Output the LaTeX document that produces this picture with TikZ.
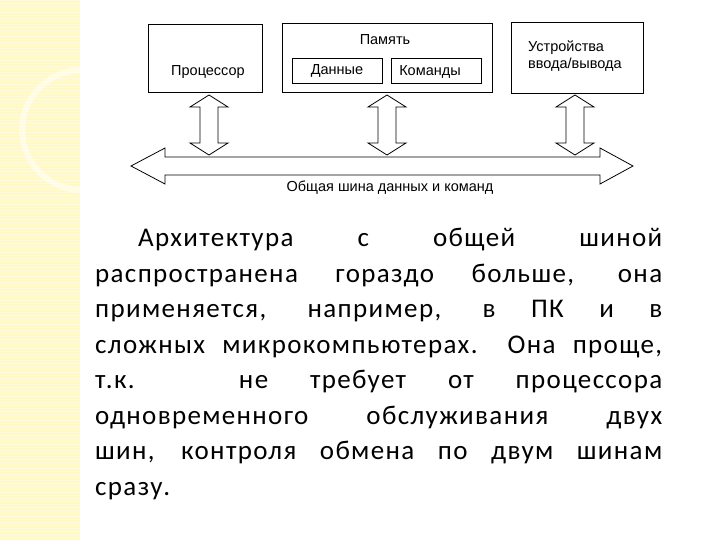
\documentclass[tikz,border=0pt]{standalone}
\usepackage{fontspec}
\setmainfont{Carlito}
\newfontfamily\parf[LetterSpace=5,WordSpace=1.6]{Carlito}
\newfontfamily\arialf{Liberation Sans}
\begin{document}
\begin{tikzpicture}[x=1pt,y=-1pt,
  box/.style={draw,line width=0.8pt,inner sep=0pt},
  lab/.style={font=\arialf\fontsize{14.5}{17}\selectfont,inner sep=0pt},
  dbl/.style={draw,line width=0.8pt,fill=white}]
\useasboundingbox (0,0) rectangle (720,540);
\fill[white] (0,0) rectangle (720,540);
% decorative strip
\fill[orange!20!yellow!22!white] (0,0) rectangle (80,540);
\foreach \yy in {0,3,...,540} \draw[white,opacity=0.35,line width=0.6pt] (0,\yy) -- (80,\yy);
\draw[white,opacity=0.5,line width=6pt] (82,130) circle (60);
\draw[white,opacity=0.5,line width=5pt] (60,0) arc (0:-90:70);
% boxes
\node[box,minimum width=114,minimum height=68] (cpu) at (205,58) {};
\node[lab] (cput) at (208,72) {Процессор};
\node[box,minimum width=210,minimum height=69] (mem) at (387,57.5) {};
\node[lab] (memt) at (385,40) {Память};
\node[box,minimum width=90,minimum height=25] (dat) at (337,70.5) {};
\node[lab] (datt) at (337,71) {Данные};
\node[box,minimum width=90,minimum height=25] (cmd) at (436,70.5) {};
\node[lab] (cmdt) at (430,72) {Команды};
\node[box,minimum width=132,minimum height=71] (io) at (577,57.5) {};
\node[lab,align=left,anchor=north west] (iot) at (528,41) {Устройства\\ввода/вывода};
% bus arrow
\draw[dbl] (131,166) -- (165,148) -- (165,157) -- (600,157) -- (600,148) -- (633,166)
  -- (600,184) -- (600,175) -- (165,175) -- (165,184) -- cycle;
\node[lab] (bust) at (390,188) {Общая шина данных и команд};
% vertical arrows
\foreach \xx/\nm in {209/a,387/b,575/c}{
  \draw[dbl] (\xx,95) -- (\xx+19,107) -- (\xx+9,107) -- (\xx+9,143) -- (\xx+19,143)
    -- (\xx,155) -- (\xx-19,143) -- (\xx-9,143) -- (\xx-9,107) -- (\xx-19,107) -- cycle;
}
% paragraph
\node[anchor=north west,inner sep=0pt,text width=567,align=justify] (par) at (95,228)
 {\parf\fontsize{27}{35.5}\selectfont\hspace*{43pt}Архитектура с общей шиной\linebreak
 распространена гораздо больше, она\linebreak
 применяется, например, в ПК и в\linebreak
 сложных микрокомпьютерах. Она проще,\linebreak
 т.к. не требует от процессора\linebreak
 одновременного обслуживания двух\linebreak
 шин, контроля обмена по двум шинам\linebreak
 сразу.\par};
\end{tikzpicture}
\end{document}
